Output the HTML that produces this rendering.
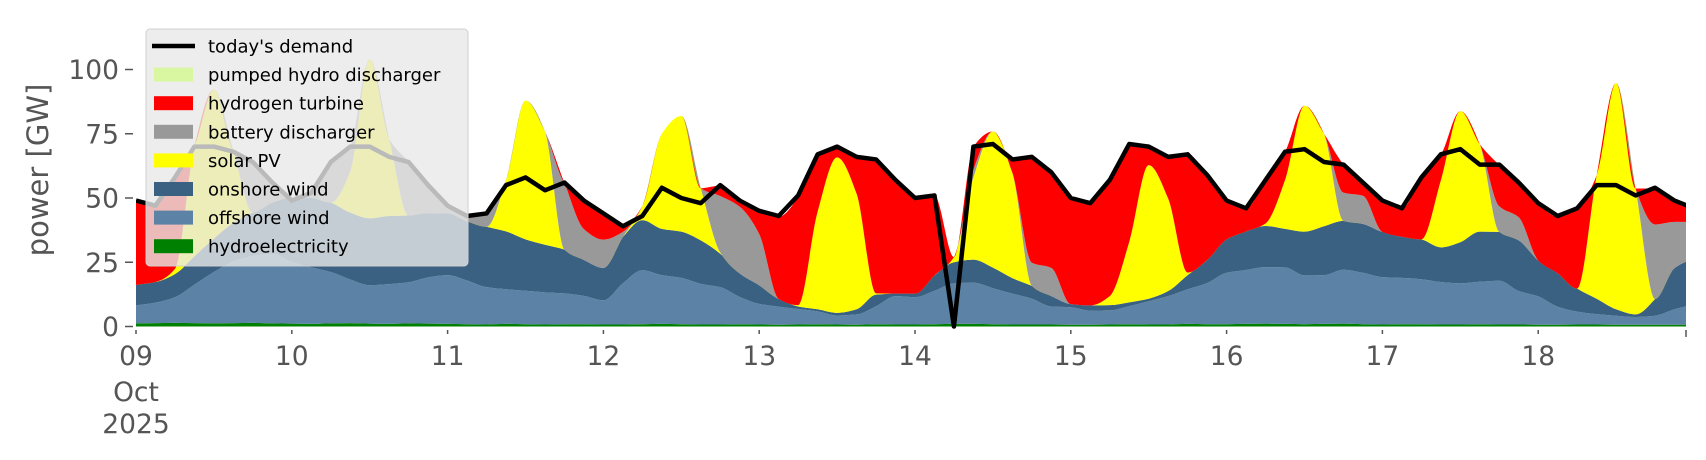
<!DOCTYPE html>
<html><head><meta charset="utf-8"><style>
html,body{margin:0;padding:0;background:#fff;}
svg{display:block;font-family:"DejaVu Sans","Liberation Sans",sans-serif;}
</style></head><body>
<svg id="chart" width="1706" height="460" viewBox="0 0 1706 460" xmlns="http://www.w3.org/2000/svg">
<defs><clipPath id="plotclip"><rect x="136" y="0" width="1550" height="330"/></clipPath></defs>
<g id="areas" clip-path="url(#plotclip)"></g>
<g id="line" clip-path="url(#plotclip)"></g>
<g id="axes"></g>
<text x="0" y="0" transform="translate(48,170) rotate(-90)" text-anchor="middle" font-size="29" fill="#555">power [GW]</text>
<g>
<rect x="146" y="29" width="322" height="237" rx="4" fill="rgba(233,233,233,0.8)" stroke="#d0d0d0" stroke-width="1"/>
<g id="legend-entries"></g>
</g>
</svg>
<script>
// time in hours, 3-hour steps
const hoursStep = 3;
const hydroelectricity = [1.2,1.3,1.4,1.3,1.2,1.3,1.4,1.2, 1.1,1.0,1.2,1.3,1.1,1.0,1.2,1.1, 1.0,0.9,0.8,1.0,0.9,0.8,0.9,0.9, 0.8,0.8,0.9,1.0,0.9,0.8,0.8,0.9, 0.8,0.7,0.8,0.9,0.8,0.7,0.9,0.8, 0.8,0.9,1.0,1.0,0.9,0.8,0.8,0.8, 0.7,0.7,0.8,0.9,0.8,0.8,1.0,0.9, 0.9,1.0,1.1,1.0,0.9,1.0,1.1,0.9, 0.8,0.9,0.9,0.8,0.8,0.9,0.8,0.8, 0.7,0.7,0.8,0.8,0.7,0.7,0.7,0.7, 0.7];
const offshoreWind = [7,8,10,15,20,24,26,27, 24,22,20,17,15,15.5,16,18, 19,17,14.5,13.5,13,12.5,12,11, 9.4,16,21,19,18,15.8,14.5,10.6, 8,7,6,5,3.5,4,7,11, 10.6,13,15.8,16,14,12,10,7, 6.8,5.5,5.5,7,9,11,13.5,16, 20,21,22,22,19,19,21,20, 18.4,18,17.5,16.5,16,16.5,17,13, 11,7,5,4,3.5,3,3.5,6, 8];
const onshoreWind = [8,8,9,11,13,15,17,20, 25,27,27,26,26,26.5,26,25, 24,23,23.5,22.5,20,18.5,17,14, 12.6,18,19.5,18,18,16.9,13,9.1, 7.2,3,1,0.8,1,2,4.5,1, 1.4,6,8.2,9,8,6,5,4, 1.2,2,2,1.5,1,2,5.5,9, 13,15,16,15,17,19,19,19, 17.6,16,15.5,13.5,16,19.5,19,19.7, 14,13,9,6,2.5,1,6.5,16, 18];
const solarPV = [0,0,2,43,58,28,0,0, 0,0,0,16,62,30,0,0, 0,0,0,20,54,44,0,0, 0,0,5.5,37,45,20.3,0.5,0, 0,0,0.5,38,60.5,45,0.5,0, 0,0,2,32,53,41,0,0, 0,0,3.5,23.5,52,36,1,0, 0,0,1,19,49,36,0,0, 0,0,0,26,51,34,0,0, 0,0,0,48,88,49,0,0, 0];
const batteryDischarger = [0,0,0,0,0,0,20,8, 0,2,16,10,0,0,21,11, 3,2,5,0,0,0,26,12, 11,2,0,0,0,0,22,26, 20,0,0,0,0,0,0,0, 0,0,0,3,0,0,9,11, 0,0,0,0,0,0,0,0, 0,0,0,0,0,0,11,11, 0,0,0,0,0,0,10,9, 0,0,0,0,0,0,29,18, 14];
const hydrogenTurbine = [33,30,36,0,0,0,0,0, 0,0,0,0,0,0,0,0, 0,0,0,0,0,0,0,11, 10,2,0,0,0,0,4,2, 9,32,42,22,4,14,52,45, 37,31,0,9,0,5,41,37, 41,40,45,38,7,16,46,33, 15,9,17,11,0,0,11,5, 12,11,24,10,0,0,16,13, 22,22,31,0,0,0,14,8, 5];
const pumpedHydro = [0,0,0,0,0,0,0,0, 0,0,0,0,0,0,0,0, 0,0,0,0,0,0,0,0, 0,0,0,0,0,0,0,0, 0,0,0,0,0,0,0,0, 0,0,0,0,0,0,0,0, 0,0,0,0,0,0,0,0, 0,0,0,0,0,0,0,0, 0,0,0,0,0,0,0,0, 0,0,0,0,0,0,0,0, 0];
const demand = [49,47,58,70,70,68,64,56, 49,52,64,70,70,66,64,55, 47,43,44,55,58,53,56,49, 44,39,43,54,50,48,55,49, 45,43,51,67,70,66,65,57, 50,51,0,70,71,65,66,60, 50,48,57,71,70,66,67,59, 49,46,57,68,69,64,63,56, 49,46,58,67,69,63,63,56, 48,43,46,55,55,51,54,49, 46];
const yTicks = [0,25,50,75,100];
const xTickLabels = ["09","10","11","12","13","14","15","16","17","18"];
const legendLabels = ["today's demand","pumped hydro discharger","hydrogen turbine","battery discharger","solar PV","onshore wind","offshore wind","hydroelectricity"];

const NS = "http://www.w3.org/2000/svg";
const X0 = 136, PX_PER_DAY = 155.8, Y0 = 326.5, PX_PER_GW = 2.57;
function xs(h){ return X0 + h/24*PX_PER_DAY; }
function ys(v){ return Y0 - v*PX_PER_GW; }
function mk(tag, attrs, parent){ const e=document.createElementNS(NS,tag); for(const k in attrs) e.setAttribute(k,attrs[k]); parent.appendChild(e); return e; }

// monotone cubic path segments through points (px arrays)
function monotone(px, py, reverse){
  const m = px.length;
  const dx=[], dy=[], s=[];
  for(let i=0;i<m-1;i++){ dx[i]=px[i+1]-px[i]; dy[i]=py[i+1]-py[i]; s[i]=dy[i]/dx[i]; }
  const t=[];
  t[0]=s[0]; t[m-1]=s[m-2];
  for(let i=1;i<m-1;i++){
    if(s[i-1]*s[i]<=0) t[i]=0;
    else t[i]=3*(dx[i-1]+dx[i])/((2*dx[i]+dx[i-1])/s[i-1]+(dx[i]+2*dx[i-1])/s[i]);
  }
  let d="";
  if(!reverse){
    for(let i=0;i<m-1;i++){
      const h=dx[i];
      d+="C"+(px[i]+h/3).toFixed(2)+","+(py[i]+t[i]*h/3).toFixed(2)+" "+(px[i+1]-h/3).toFixed(2)+","+(py[i+1]-t[i+1]*h/3).toFixed(2)+" "+px[i+1].toFixed(2)+","+py[i+1].toFixed(2);
    }
  } else {
    for(let i=m-1;i>0;i--){
      const h=dx[i-1];
      d+="C"+(px[i]-h/3).toFixed(2)+","+(py[i]-t[i]*h/3).toFixed(2)+" "+(px[i-1]+h/3).toFixed(2)+","+(py[i-1]+t[i-1]*h/3).toFixed(2)+" "+px[i-1].toFixed(2)+","+py[i-1].toFixed(2);
    }
  }
  return d;
}

const series = [
  {vals:hydroelectricity, color:"#008000", name:"area-hydroelectricity"},
  {vals:offshoreWind, color:"#5c83a5", name:"area-offshore-wind"},
  {vals:onshoreWind, color:"#3b6182", name:"area-onshore-wind"},
  {vals:solarPV, color:"#ffff00", name:"area-solar-pv"},
  {vals:batteryDischarger, color:"#999999", name:"area-battery-discharger"},
  {vals:hydrogenTurbine, color:"#ff0000", name:"area-hydrogen-turbine"},
  {vals:pumpedHydro, color:"#d9f7a1", name:"area-pumped-hydro"}
];
const n = demand.length;
const pxs = []; for(let i=0;i<n;i++) pxs.push(xs(i*hoursStep));
const areasG = document.getElementById('areas');
let base = new Array(n).fill(0);
series.forEach(s=>{
  const top = base.map((b,i)=>b+s.vals[i]);
  const ty = top.map(ys), by = base.map(ys);
  let d = "M"+pxs[0].toFixed(2)+","+ty[0].toFixed(2)+monotone(pxs,ty,false);
  d += "L"+pxs[n-1].toFixed(2)+","+by[n-1].toFixed(2)+monotone(pxs,by,true)+"Z";
  const p = mk('path',{d:d, fill:s.color, stroke:"none"},areasG);
  
  
  base = top;
});
// demand line
let dl = "";
for(let i=0;i<n;i++) dl += (i?"L":"M")+pxs[i].toFixed(2)+","+ys(demand[i]).toFixed(2);
const line = mk('path',{d:dl, fill:"none", stroke:"#000", "stroke-width":"4.5", "stroke-linejoin":"round"},document.getElementById('line'));



// axes
const ax = document.getElementById('axes');
yTicks.forEach(v=>{
  const t = mk('line',{x1:125,x2:133,y1:ys(v),y2:ys(v),stroke:"#555","stroke-width":1.5},ax);
  
  
  const lb = mk('text',{x:119,y:ys(v)+9.5,"text-anchor":"end","font-size":26.5,fill:"#555"},ax);
  lb.textContent = v;
  
  
});
xTickLabels.forEach((lab,i)=>{
  const x = X0 + i*PX_PER_DAY;
  const t = mk('line',{x1:x,x2:x,y1:330,y2:334,stroke:"#555","stroke-width":1.5},ax);
  
  
  const lb = mk('text',{x:x,y:365,"text-anchor":"middle","font-size":26.5,fill:"#555"},ax);
  lb.textContent = lab;
  
  
});
const endT = mk('line',{x1:1686,x2:1686,y1:330,y2:337,stroke:"#555","stroke-width":1.5},ax);


const oct = mk('text',{x:X0,y:401,"text-anchor":"middle","font-size":26.5,fill:"#555"},ax);
oct.textContent = "Oct";


const yr = mk('text',{x:X0,y:433,"text-anchor":"middle","font-size":26.5,fill:"#555"},ax);
yr.textContent = "2025";



// legend
const lg = document.getElementById('legend-entries');
const legendColors = ["#000","#d9f7a1","#ff0000","#999999","#ffff00","#3b6182","#5c83a5","#008000"];
legendLabels.forEach((lab,i)=>{
  const cy = 46 + i*28.6;
  if(i===0){
    const l = mk('line',{x1:152,x2:195,y1:cy,y2:cy,stroke:"#000","stroke-width":4.5},lg);
    
    
  } else {
    const r = mk('rect',{x:154,y:cy-7,width:39,height:14,fill:legendColors[i]},lg);
    
    
  }
  const t = mk('text',{x:208,y:cy+6.5,"font-size":18,fill:"#000"},lg);
  t.textContent = lab;
  
  
});
</script>
</body></html>
